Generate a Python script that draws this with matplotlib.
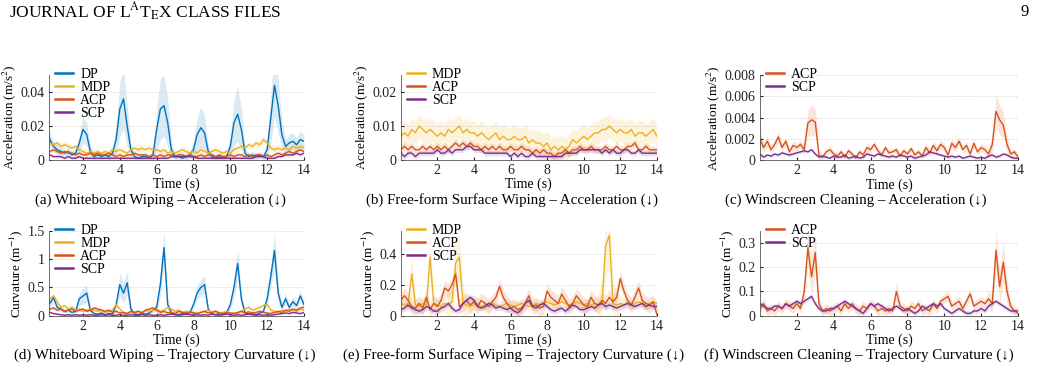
import matplotlib
matplotlib.use("Agg")
import matplotlib.pyplot as plt
import numpy as np

plt.rcParams['font.family'] = ['Liberation Serif', 'DejaVu Serif']
plt.rcParams['mathtext.fontset'] = 'stix'

# time axis, 0.2 s steps
t = np.round(np.arange(71) * 0.2, 1)

# (a) Whiteboard Wiping - Acceleration
a_dp = [0.020,0.012,0.008,0.006,0.005,0.004,0.005,0.003,0.004,0.010,
        0.018,0.015,0.005,0.002,0.003,0.002,0.003,0.002,0.004,0.012,
        0.030,0.036,0.020,0.006,0.002,0.001,0.002,0.002,0.001,0.003,
        0.018,0.030,0.032,0.022,0.006,0.002,0.002,0.001,0.002,0.003,
        0.006,0.015,0.019,0.016,0.005,0.002,0.001,0.002,0.001,0.002,
        0.008,0.022,0.027,0.018,0.004,0.002,0.003,0.002,0.003,0.002,
        0.006,0.025,0.044,0.032,0.015,0.008,0.010,0.011,0.009,0.012,0.011]
a_dp_sd = [0.006,0.004,0.003,0.003,0.002,0.002,0.002,0.002,0.002,0.005,
           0.008,0.007,0.003,0.002,0.002,0.002,0.002,0.002,0.003,0.008,
           0.016,0.018,0.012,0.004,0.002,0.002,0.002,0.002,0.002,0.003,
           0.012,0.018,0.018,0.014,0.004,0.002,0.002,0.002,0.002,0.002,
           0.005,0.010,0.012,0.010,0.004,0.002,0.002,0.002,0.002,0.002,
           0.006,0.014,0.016,0.012,0.003,0.002,0.002,0.002,0.002,0.002,
           0.005,0.015,0.018,0.016,0.008,0.004,0.005,0.005,0.004,0.005,0.004]
a_mdp = [0.012,0.010,0.009,0.010,0.008,0.009,0.008,0.007,0.008,0.006,
         0.005,0.004,0.005,0.004,0.005,0.004,0.005,0.004,0.006,0.005,
         0.006,0.005,0.004,0.006,0.007,0.006,0.007,0.006,0.007,0.006,
         0.006,0.005,0.006,0.004,0.005,0.004,0.005,0.006,0.005,0.004,
         0.005,0.004,0.006,0.005,0.004,0.005,0.006,0.005,0.004,0.005,
         0.004,0.006,0.007,0.008,0.007,0.009,0.008,0.010,0.009,0.012,
         0.010,0.007,0.006,0.007,0.006,0.007,0.006,0.008,0.007,0.008,0.007]
a_acp = [0.006,0.005,0.006,0.005,0.004,0.005,0.004,0.004,0.003,0.004,
         0.003,0.003,0.004,0.003,0.004,0.003,0.003,0.004,0.003,0.002,
         0.003,0.002,0.003,0.003,0.004,0.003,0.003,0.003,0.002,0.003,
         0.002,0.003,0.002,0.003,0.003,0.002,0.003,0.003,0.002,0.003,
         0.002,0.002,0.003,0.002,0.003,0.003,0.002,0.003,0.002,0.002,
         0.003,0.002,0.003,0.003,0.002,0.003,0.002,0.003,0.003,0.002,
         0.003,0.002,0.003,0.004,0.003,0.004,0.005,0.004,0.005,0.006,0.005]
a_scp = [0.003,0.003,0.002,0.002,0.002,0.001,0.002,0.001,0.001,0.002,
         0.001,0.001,0.001,0.001,0.001,0.001,0.001,0.001,0.001,0.001,
         0.001,0.001,0.001,0.001,0.001,0.001,0.001,0.001,0.001,0.001,
         0.001,0.001,0.001,0.001,0.002,0.002,0.002,0.002,0.002,0.002,
         0.002,0.001,0.001,0.001,0.001,0.001,0.001,0.001,0.001,0.001,
         0.001,0.001,0.001,0.001,0.001,0.001,0.001,0.002,0.002,0.002,
         0.001,0.001,0.001,0.002,0.002,0.003,0.003,0.003,0.004,0.003,0.004]

# (b) Free-form Surface Wiping - Acceleration
b_mdp = [0.007,0.008,0.007,0.009,0.008,0.010,0.009,0.008,0.009,0.008,
         0.007,0.008,0.007,0.009,0.008,0.009,0.010,0.008,0.009,0.008,
         0.008,0.007,0.008,0.007,0.006,0.007,0.008,0.006,0.007,0.006,
         0.006,0.007,0.006,0.006,0.007,0.005,0.006,0.005,0.005,0.004,
         0.005,0.003,0.004,0.003,0.004,0.003,0.004,0.006,0.005,0.006,
         0.007,0.006,0.007,0.008,0.008,0.009,0.009,0.010,0.009,0.008,
         0.009,0.008,0.008,0.009,0.007,0.008,0.008,0.007,0.008,0.009,0.007]
b_acp = [0.003,0.004,0.003,0.004,0.003,0.003,0.004,0.003,0.004,0.003,
         0.004,0.003,0.004,0.003,0.004,0.005,0.004,0.005,0.004,0.005,
         0.004,0.004,0.003,0.004,0.003,0.004,0.003,0.004,0.003,0.003,
         0.004,0.003,0.003,0.004,0.003,0.003,0.002,0.003,0.002,0.003,
         0.002,0.002,0.001,0.002,0.002,0.003,0.002,0.003,0.003,0.004,
         0.003,0.003,0.004,0.003,0.003,0.003,0.004,0.003,0.003,0.004,
         0.003,0.003,0.004,0.004,0.005,0.003,0.003,0.004,0.003,0.003,0.003]
b_scp = [0.002,0.001,0.002,0.002,0.001,0.002,0.002,0.002,0.002,0.002,
         0.003,0.002,0.002,0.003,0.002,0.003,0.003,0.003,0.004,0.004,
         0.003,0.003,0.003,0.002,0.002,0.002,0.002,0.002,0.002,0.002,
         0.001,0.002,0.001,0.002,0.001,0.001,0.002,0.001,0.001,0.001,
         0.001,0.001,0.001,0.001,0.001,0.002,0.002,0.002,0.002,0.003,
         0.003,0.003,0.003,0.003,0.003,0.002,0.003,0.002,0.003,0.002,
         0.002,0.003,0.003,0.002,0.002,0.003,0.002,0.002,0.002,0.002,0.002]

# (c) Windscreen Cleaning - Acceleration
c_acp = [0.0020,0.0012,0.0018,0.0010,0.0015,0.0022,0.0012,0.0018,0.0008,0.0014,
         0.0012,0.0015,0.0010,0.0035,0.0038,0.0036,0.0005,0.0003,0.0008,0.0010,
         0.0006,0.0004,0.0008,0.0003,0.0009,0.0006,0.0002,0.0008,0.0005,0.0012,
         0.0010,0.0015,0.0009,0.0005,0.0012,0.0007,0.0008,0.0010,0.0004,0.0009,
         0.0006,0.0011,0.0005,0.0008,0.0004,0.0012,0.0007,0.0014,0.0009,0.0015,
         0.0012,0.0005,0.0016,0.0012,0.0018,0.0010,0.0014,0.0006,0.0016,0.0008,
         0.0012,0.0010,0.0006,0.0015,0.0046,0.0038,0.0033,0.0015,0.0006,0.0008,0.0003]
c_acp_sd = [0.0008,0.0005,0.0005,0.0004,0.0004,0.0005,0.0004,0.0004,0.0004,0.0004,
            0.0004,0.0004,0.0005,0.0012,0.0015,0.0012,0.0005,0.0003,0.0003,0.0003,
            0.0003,0.0003,0.0003,0.0003,0.0003,0.0003,0.0003,0.0003,0.0003,0.0004,
            0.0003,0.0004,0.0003,0.0003,0.0003,0.0003,0.0003,0.0003,0.0003,0.0003,
            0.0003,0.0003,0.0003,0.0003,0.0003,0.0004,0.0004,0.0004,0.0004,0.0004,
            0.0004,0.0003,0.0004,0.0004,0.0004,0.0003,0.0004,0.0003,0.0004,0.0003,
            0.0004,0.0004,0.0005,0.0008,0.0015,0.0014,0.0012,0.0008,0.0004,0.0003,0.0003]
c_scp = [0.0006,0.0003,0.0005,0.0004,0.0006,0.0005,0.0007,0.0006,0.0005,0.0006,
         0.0007,0.0008,0.0009,0.0008,0.0010,0.0006,0.0003,0.0004,0.0003,0.0002,
         0.0004,0.0003,0.0003,0.0005,0.0002,0.0003,0.0004,0.0002,0.0003,0.0006,
         0.0005,0.0004,0.0006,0.0005,0.0004,0.0003,0.0004,0.0003,0.0005,0.0004,
         0.0003,0.0004,0.0002,0.0003,0.0004,0.0005,0.0008,0.0007,0.0006,0.0005,
         0.0004,0.0003,0.0004,0.0003,0.0004,0.0002,0.0003,0.0004,0.0003,0.0002,
         0.0003,0.0002,0.0004,0.0005,0.0003,0.0004,0.0006,0.0005,0.0003,0.0002,0.0002]

# (d) Whiteboard Wiping - Trajectory Curvature
d_dp = [0.30,0.22,0.32,0.15,0.12,0.08,0.10,0.06,0.08,0.30,
        0.35,0.40,0.10,0.04,0.03,0.05,0.02,0.04,0.03,0.20,
        0.55,0.40,0.58,0.12,0.03,0.02,0.04,0.03,0.05,0.10,
        0.15,0.55,1.20,0.20,0.05,0.03,0.02,0.04,0.03,0.05,
        0.20,0.40,0.50,0.55,0.12,0.03,0.02,0.04,0.03,0.05,
        0.20,0.50,0.92,0.30,0.05,0.03,0.04,0.02,0.05,0.08,
        0.30,0.70,1.15,0.40,0.15,0.30,0.15,0.25,0.18,0.35,0.20]
d_dp_sd = [0.08,0.06,0.08,0.05,0.04,0.03,0.03,0.03,0.03,0.10,
           0.15,0.15,0.05,0.02,0.02,0.02,0.02,0.02,0.02,0.10,
           0.20,0.18,0.20,0.06,0.02,0.02,0.02,0.02,0.02,0.04,
           0.08,0.20,0.30,0.10,0.03,0.02,0.02,0.02,0.02,0.02,
           0.08,0.12,0.15,0.15,0.05,0.02,0.02,0.02,0.02,0.02,
           0.08,0.18,0.25,0.12,0.03,0.02,0.02,0.02,0.02,0.03,
           0.12,0.20,0.30,0.15,0.06,0.10,0.06,0.08,0.06,0.10,0.06]
d_mdp = [0.20,0.30,0.35,0.25,0.15,0.18,0.12,0.15,0.10,0.12,
         0.08,0.10,0.12,0.10,0.08,0.10,0.06,0.08,0.10,0.20,
         0.12,0.05,0.04,0.06,0.05,0.08,0.06,0.10,0.08,0.10,
         0.12,0.08,0.10,0.15,0.12,0.08,0.10,0.06,0.08,0.05,
         0.06,0.04,0.06,0.08,0.10,0.06,0.08,0.05,0.06,0.08,
         0.04,0.05,0.04,0.08,0.12,0.15,0.10,0.12,0.15,0.18,
         0.20,0.10,0.08,0.06,0.10,0.08,0.12,0.10,0.08,0.12,0.10]
d_acp = [0.15,0.12,0.14,0.10,0.12,0.08,0.10,0.12,0.08,0.10,
         0.12,0.08,0.10,0.14,0.12,0.10,0.08,0.10,0.06,0.08,
         0.05,0.06,0.04,0.08,0.06,0.08,0.05,0.10,0.12,0.14,
         0.10,0.06,0.08,0.05,0.06,0.04,0.08,0.06,0.05,0.07,
         0.05,0.04,0.06,0.08,0.05,0.06,0.08,0.05,0.04,0.06,
         0.05,0.04,0.06,0.08,0.05,0.07,0.05,0.06,0.08,0.06,
         0.05,0.04,0.06,0.08,0.06,0.10,0.08,0.12,0.10,0.14,0.15]
d_scp = [0.08,0.06,0.04,0.03,0.02,0.01,0.02,0.01,0.02,0.01,
         0.02,0.01,0.02,0.01,0.01,0.02,0.01,0.02,0.01,0.01,
         0.02,0.01,0.01,0.02,0.01,0.01,0.02,0.01,0.02,0.01,
         0.01,0.02,0.01,0.02,0.03,0.02,0.01,0.02,0.03,0.02,
         0.01,0.02,0.01,0.02,0.01,0.03,0.02,0.01,0.02,0.03,
         0.02,0.01,0.02,0.01,0.02,0.03,0.02,0.01,0.02,0.01,
         0.02,0.01,0.02,0.03,0.04,0.05,0.04,0.06,0.05,0.04,0.06]

# (e) Free-form Surface Wiping - Trajectory Curvature
e_mdp = [0.08,0.07,0.08,0.27,0.07,0.06,0.08,0.07,0.38,0.08,
         0.07,0.06,0.08,0.07,0.09,0.34,0.38,0.08,0.07,0.06,
         0.07,0.08,0.06,0.07,0.06,0.08,0.07,0.06,0.07,0.08,
         0.07,0.06,0.07,0.08,0.07,0.06,0.07,0.08,0.07,0.08,
         0.09,0.08,0.07,0.08,0.09,0.08,0.07,0.08,0.09,0.08,
         0.07,0.08,0.07,0.08,0.07,0.08,0.45,0.52,0.08,0.07,
         0.08,0.07,0.08,0.07,0.08,0.09,0.08,0.07,0.08,0.09,0.08]
e_mdp_sd = [0.04,0.04,0.05,0.12,0.05,0.04,0.04,0.05,0.15,0.05,
            0.04,0.04,0.05,0.08,0.10,0.15,0.15,0.10,0.06,0.05,
            0.04,0.04,0.03,0.03,0.03,0.03,0.03,0.03,0.03,0.03,
            0.03,0.03,0.03,0.03,0.03,0.03,0.03,0.03,0.03,0.03,
            0.03,0.03,0.03,0.03,0.03,0.03,0.03,0.03,0.03,0.03,
            0.03,0.03,0.03,0.04,0.08,0.15,0.20,0.22,0.15,0.08,
            0.05,0.04,0.03,0.03,0.03,0.03,0.03,0.03,0.03,0.03,0.03]
e_acp = [0.10,0.13,0.10,0.06,0.05,0.08,0.05,0.12,0.04,0.08,
         0.06,0.10,0.18,0.16,0.20,0.27,0.06,0.08,0.10,0.07,
         0.09,0.06,0.10,0.08,0.06,0.09,0.12,0.19,0.12,0.08,
         0.05,0.06,0.04,0.05,0.08,0.13,0.06,0.07,0.05,0.06,
         0.16,0.12,0.10,0.08,0.14,0.10,0.06,0.08,0.13,0.10,
         0.07,0.06,0.12,0.08,0.07,0.10,0.08,0.12,0.09,0.12,
         0.24,0.16,0.10,0.07,0.12,0.18,0.10,0.08,0.07,0.09,0.01]
e_scp = [0.04,0.05,0.07,0.05,0.04,0.03,0.04,0.06,0.05,0.03,
         0.03,0.05,0.06,0.08,0.05,0.03,0.04,0.08,0.10,0.12,
         0.10,0.06,0.05,0.06,0.08,0.07,0.05,0.06,0.05,0.04,
         0.05,0.03,0.02,0.04,0.08,0.10,0.06,0.05,0.07,0.08,
         0.06,0.04,0.03,0.04,0.05,0.03,0.05,0.07,0.06,0.04,
         0.04,0.05,0.06,0.05,0.07,0.08,0.06,0.07,0.06,0.05,
         0.06,0.07,0.08,0.07,0.06,0.07,0.08,0.06,0.07,0.06,0.06]

# (f) Windscreen Cleaning - Trajectory Curvature
f_acp = [0.03,0.05,0.02,0.03,0.02,0.04,0.03,0.05,0.04,0.03,
         0.05,0.03,0.10,0.28,0.16,0.26,0.05,0.02,0.03,0.02,
         0.03,0.04,0.02,0.05,0.03,0.05,0.03,0.02,0.04,0.03,
         0.05,0.04,0.02,0.03,0.02,0.03,0.02,0.10,0.04,0.03,
         0.02,0.04,0.03,0.05,0.02,0.03,0.02,0.05,0.03,0.06,
         0.07,0.08,0.04,0.05,0.06,0.03,0.06,0.09,0.04,0.05,
         0.06,0.05,0.07,0.05,0.27,0.12,0.22,0.10,0.04,0.02,0.01]
f_acp_sd = [0.02,0.02,0.02,0.02,0.02,0.02,0.02,0.02,0.02,0.02,
            0.02,0.02,0.04,0.08,0.08,0.08,0.03,0.02,0.02,0.02,
            0.02,0.02,0.02,0.02,0.02,0.02,0.02,0.02,0.02,0.02,
            0.02,0.02,0.02,0.02,0.02,0.02,0.02,0.04,0.02,0.02,
            0.02,0.02,0.02,0.02,0.02,0.02,0.02,0.02,0.02,0.02,
            0.02,0.02,0.02,0.02,0.02,0.02,0.02,0.02,0.02,0.02,
            0.02,0.02,0.03,0.04,0.08,0.07,0.08,0.05,0.02,0.02,0.02]
f_scp = [0.05,0.04,0.03,0.03,0.04,0.04,0.03,0.05,0.04,0.05,
         0.06,0.05,0.06,0.07,0.08,0.05,0.03,0.02,0.02,0.03,
         0.03,0.04,0.05,0.06,0.05,0.04,0.03,0.02,0.01,0.03,
         0.05,0.04,0.05,0.04,0.03,0.02,0.03,0.04,0.03,0.02,
         0.03,0.02,0.01,0.02,0.04,0.03,0.04,0.05,0.04,0.05,
         0.03,0.02,0.01,0.02,0.03,0.02,0.01,0.01,0.02,0.02,
         0.03,0.02,0.04,0.05,0.06,0.05,0.04,0.03,0.02,0.02,0.02]

# spreads of the thin series (single values)
a_mdp_sd, a_acp_sd, a_scp_sd = 0.002, 0.0012, 0.0008
b_mdp_sd, b_acp_sd, b_scp_sd = 0.0035, 0.0012, 0.0008
c_scp_sd = 0.00015
d_mdp_sd, d_acp_sd, d_scp_sd = 0.03, 0.03, 0.01
e_acp_sd, e_scp_sd = 0.05, 0.02
f_scp_sd = 0.01

colors = {"DP": "#0072BD", "MDP": "#EDB120", "ACP": "#D95319", "SCP": "#7E2F8E"}

fig = plt.figure(figsize=(10.41, 3.72), dpi=100)

panels = [
    # rect, x0, ylim, yticks, yticklabels, ylabel, series, caption, caption x
    ([0.047, 0.570, 0.245, 0.228], 0.15, 0.05, [0, 0.02, 0.04], ["0", "0.02", "0.04"],
     "Acceleration (m/s$^{2}$)",
     [("DP", a_dp, a_dp_sd), ("MDP", a_mdp, a_mdp_sd), ("ACP", a_acp, a_acp_sd), ("SCP", a_scp, a_scp_sd)],
     "(a) Whiteboard Wiping – Acceleration (↓)", 0.154),
    ([0.385, 0.570, 0.246, 0.228], 0.0, 0.025, [0, 0.01, 0.02], ["0", "0.01", "0.02"],
     "Acceleration (m/s$^{2}$)",
     [("MDP", b_mdp, b_mdp_sd), ("ACP", b_acp, b_acp_sd), ("SCP", b_scp, b_scp_sd)],
     "(b) Free-form Surface Wiping – Acceleration (↓)", 0.492),
    ([0.730, 0.569, 0.248, 0.229], 0.0, 0.008, [0, 0.002, 0.004, 0.006, 0.008],
     ["0", "0.002", "0.004", "0.006", "0.008"],
     "Acceleration (m/s$^{2}$)",
     [("ACP", c_acp, c_acp_sd), ("SCP", c_scp, c_scp_sd)],
     "(c) Windscreen Cleaning – Acceleration (↓)", 0.822),
    ([0.047, 0.151, 0.245, 0.229], 0.15, 1.5, [0, 0.5, 1, 1.5], ["0", "0.5", "1", "1.5"],
     "Curvature (m$^{-1}$)",
     [("DP", d_dp, d_dp_sd), ("MDP", d_mdp, d_mdp_sd), ("ACP", d_acp, d_acp_sd), ("SCP", d_scp, d_scp_sd)],
     "(d) Whiteboard Wiping – Trajectory Curvature (↓)", 0.158),
    ([0.385, 0.151, 0.246, 0.229], 0.0, 0.55, [0, 0.2, 0.4], ["0", "0.2", "0.4"],
     "Curvature (m$^{-1}$)",
     [("MDP", e_mdp, e_mdp_sd), ("ACP", e_acp, e_acp_sd), ("SCP", e_scp, e_scp_sd)],
     "(e) Free-form Surface Wiping – Trajectory Curvature (↓)", 0.493),
    ([0.730, 0.151, 0.248, 0.229], 0.0, 0.35, [0, 0.1, 0.2, 0.3], ["0", "0.1", "0.2", "0.3"],
     "Curvature (m$^{-1}$)",
     [("ACP", f_acp, f_acp_sd), ("SCP", f_scp, f_scp_sd)],
     "(f) Windscreen Cleaning – Trajectory Curvature (↓)", 0.825),
]

for rect, x0, ytop, yt, ytl, ylab, series, cap, capx in panels:
    ax = fig.add_axes(rect)
    handles = []
    for name, y, sd in series:
        y = np.array(y)
        sd = np.array(sd) * np.ones_like(y)
        c = colors[name]
        ax.fill_between(t, np.clip(y - sd, 0, None), y + sd, color=c, alpha=0.15, lw=0)
        h, = ax.plot(t, y, color=c, lw=1.0, label=name)
        handles.append(h)
    ax.set_xlim(x0, 14)
    ax.set_ylim(0, ytop)
    ax.set_xticks([2, 4, 6, 8, 10, 12, 14])
    ax.set_yticks(yt)
    ax.set_yticklabels(ytl)
    ax.tick_params(direction='in', length=2, labelsize=10, colors='#222222', pad=3)
    ax.grid(axis='y', color='#cccccc', linestyle=(0, (2, 2)), linewidth=0.5)
    for s in ['top', 'right']:
        ax.spines[s].set_visible(False)
    for s in ['left', 'bottom']:
        ax.spines[s].set_color('#555555')
        ax.spines[s].set_linewidth(0.6)
    ax.set_xlabel("Time (s)", fontsize=10, labelpad=0.5)
    ax.set_ylabel(ylab, fontsize=9.5, labelpad=2)
    leg = ax.legend(handles=handles, loc='upper left', bbox_to_anchor=(0.024, 1.08),
                    frameon=False, fontsize=10, handlelength=1.3, handletextpad=0.5,
                    labelspacing=0.0, borderaxespad=0.0, borderpad=0.0)
    for line in leg.get_lines():
        line.set_linewidth(1.8)
    capy = 0.461 if rect[1] > 0.5 else 0.045
    fig.text(capx, capy, cap, ha='center', va='center', fontsize=10.8)

# page header
fig.text(0.009, 0.967, r"JOURNAL OF L$^{\mathrm{A}}$T$_{\mathrm{E}}$X CLASS FILES",
         fontsize=12.5, va='center', ha='left')
fig.text(0.988, 0.967, "9", fontsize=12, va='center', ha='right')

fig.savefig("out.png", dpi=100)
